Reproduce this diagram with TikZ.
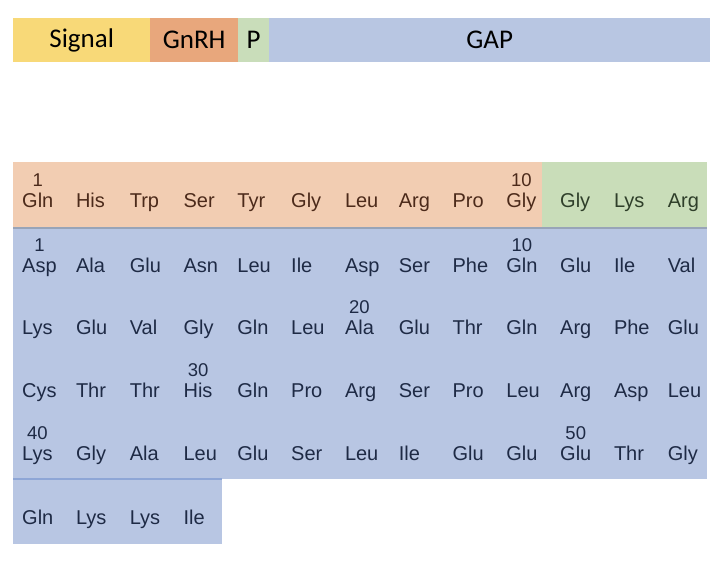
\documentclass[tikz,border=0pt]{standalone}
\usepackage{fontspec}
\setmainfont{Liberation Sans}
\newfontfamily\calibrifont{Carlito}
\definecolor{sigY}{HTML}{F8D978}
\definecolor{gnO}{HTML}{E8A77C}
\definecolor{pG}{HTML}{C9DDBA}
\definecolor{gapB}{HTML}{B8C6E2}
\definecolor{tabO}{HTML}{F2CDB2}
\definecolor{tabG}{HTML}{C9DDB9}
\definecolor{tabB}{HTML}{B8C6E3}
\definecolor{txtO}{HTML}{4C2A1A}
\definecolor{txtG}{HTML}{2F3F2A}
\definecolor{txtB}{HTML}{1E2A45}
\definecolor{sepGray}{HTML}{98A4B8}
\definecolor{sepBlue}{HTML}{8EA6D6}
\begin{document}
\begin{tikzpicture}[x=1pt,y=-1pt,
  barbox/.style={anchor=north west, inner sep=0pt, minimum height=44pt, font=\calibrifont\fontsize{27}{27}\selectfont, text=black},
  aa/.style={anchor=base west, inner sep=0pt, font=\fontsize{20}{20}\selectfont},
  num/.style={anchor=base, inner sep=0pt, font=\fontsize{18.5}{18.5}\selectfont}]
\useasboundingbox (0,0) rectangle (726,560);
% top bar
\node[barbox, fill=sigY, minimum width=137pt] (signal) at (13,18) {Signal};
\node[barbox, fill=gnO, minimum width=88pt] (gnrh) at (150,18) {GnRH};
\node[barbox, fill=pG, minimum width=31pt] (pp) at (238,18) {P};
\node[barbox, fill=gapB, minimum width=441pt] (gap) at (269,18) {GAP};
% table backgrounds
\fill[tabO] (13,162) rectangle (542,228);
\fill[tabG] (542,162) rectangle (707,228);
\fill[tabB] (13,228) rectangle (707,479);
\fill[tabB] (13,479) rectangle (222,544);
\draw[sepGray, line width=1.5pt] (13,228) -- (707,228);
\draw[sepBlue, line width=1.5pt] (13,479) -- (222,479);
% row 1
\foreach \nm [count=\c] in {Gln,His,Trp,Ser,Tyr,Gly,Leu,Arg,Pro,Gly}
  \node[aa, text=txtO] (r1c\c) at ({22+53.8*(\c-1)},207) {\nm};
\foreach \nm [count=\c from 11] in {Gly,Lys,Arg}
  \node[aa, text=txtG] (r1c\c) at ({22+53.8*(\c-1)},207) {\nm};
% row 2
\foreach \nm [count=\c] in {Asp,Ala,Glu,Asn,Leu,Ile,Asp,Ser,Phe,Gln,Glu,Ile,Val}
  \node[aa, text=txtB] (r2c\c) at ({22+53.8*(\c-1)},272) {\nm};
% row 3
\foreach \nm [count=\c] in {Lys,Glu,Val,Gly,Gln,Leu,Ala,Glu,Thr,Gln,Arg,Phe,Glu}
  \node[aa, text=txtB] (r3c\c) at ({22+53.8*(\c-1)},334) {\nm};
% row 4
\foreach \nm [count=\c] in {Cys,Thr,Thr,His,Gln,Pro,Arg,Ser,Pro,Leu,Arg,Asp,Leu}
  \node[aa, text=txtB] (r4c\c) at ({22+53.8*(\c-1)},397) {\nm};
% row 5
\foreach \nm [count=\c] in {Lys,Gly,Ala,Leu,Glu,Ser,Leu,Ile,Glu,Glu,Glu,Thr,Gly}
  \node[aa, text=txtB] (r5c\c) at ({22+53.8*(\c-1)},460) {\nm};
% row 6
\foreach \nm [count=\c] in {Gln,Lys,Lys,Ile}
  \node[aa, text=txtB] (r6c\c) at ({22+53.8*(\c-1)},524) {\nm};
% position numbers
\node[num, text=txtO] (n1a) at ([yshift=21pt]r1c1.base) {1};
\node[num, text=txtO] (n10a) at ([yshift=21pt]r1c10.base) {10};
\node[num, text=txtB] (n1b) at ([yshift=21pt]r2c1.base) {1};
\node[num, text=txtB] (n10b) at ([yshift=21pt]r2c10.base) {10};
\node[num, text=txtB] (n20) at ([yshift=21pt]r3c7.base) {20};
\node[num, text=txtB] (n30) at ([yshift=21pt]r4c4.base) {30};
\node[num, text=txtB] (n40) at ([yshift=21pt]r5c1.base) {40};
\node[num, text=txtB] (n50) at ([yshift=21pt]r5c11.base) {50};
\end{tikzpicture}
\end{document}
